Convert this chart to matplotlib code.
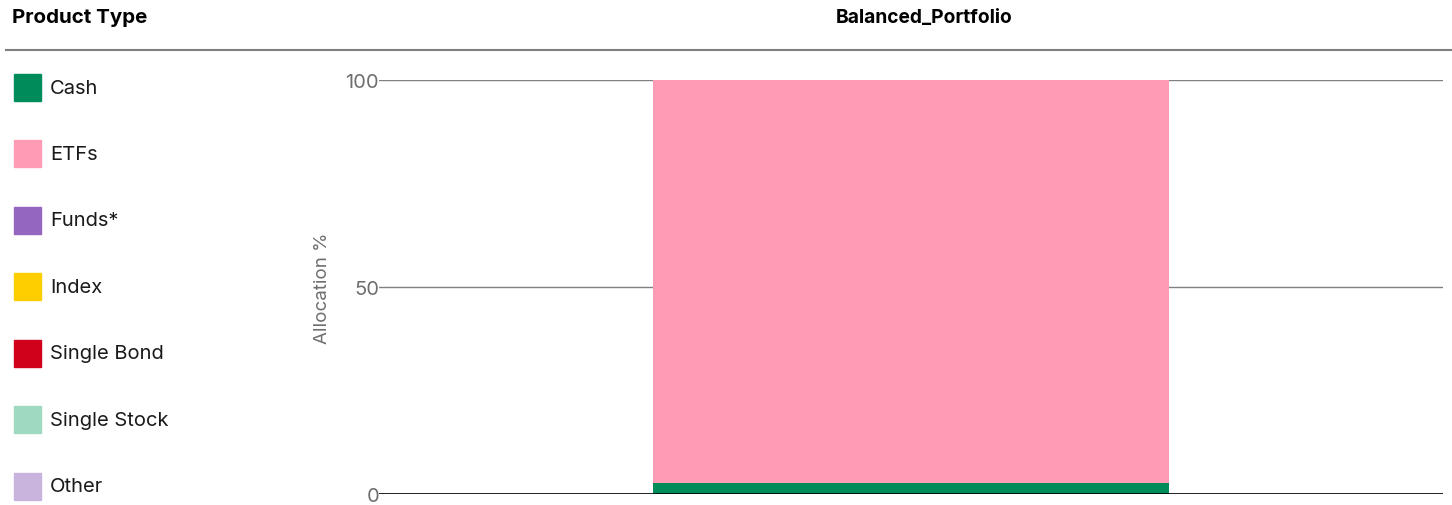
import matplotlib.pyplot as plt
from matplotlib.patches import Rectangle
from matplotlib.lines import Line2D

plt.rcParams['font.family'] = ['Inter', 'DejaVu Sans']

portfolio = "Balanced_Portfolio"
product_types = ["Cash", "ETFs", "Funds*", "Index", "Single Bond", "Single Stock", "Other"]
allocation = [2.7, 97.3, 0, 0, 0, 0, 0]
colors = ["#008c5a", "#ff9bb5", "#9566bf", "#ffce00", "#d0021b", "#a0d9c1", "#c8b4dd"]
yticks = [0, 50, 100]

W, H = 1452, 506
fig = plt.figure(figsize=(W / 100, H / 100), dpi=100)

def fx(px):
    return px / W

def fy(py):
    return 1 - py / H

# header
fig.text(fx(12), fy(18), "Product Type", fontsize=14.8, fontweight="bold",
         ha="left", va="center", color="#000000")
fig.text(fx(924), fy(18), portfolio, fontsize=13.8, fontweight="bold",
         ha="center", va="center", color="#000000")
fig.add_artist(Line2D([fx(6), 1], [fy(51), fy(51)], color="#7f7f7f", lw=1.5,
                      transform=fig.transFigure))

# legend
for i, (name, c) in enumerate(zip(product_types, colors)):
    yc = 88.5 + i * 66.5
    fig.add_artist(Rectangle((fx(14), fy(yc + 13)), fx(27), 27 / H, color=c,
                             transform=fig.transFigure))
    fig.text(fx(50), fy(yc), name, fontsize=14.5, ha="left", va="center",
             color="#1a1a1a")

# chart
ax = fig.add_axes([fx(379), fy(495), fx(1443 - 379), (495 - 81) / H])
bottom = 0
for name, val, c in zip(product_types, allocation, colors):
    if val > 0:
        ax.bar(0, val, bottom=bottom, width=0.485, color=c, zorder=2)
    bottom += val

ax.set_xlim(-0.5, 0.5)
ax.set_ylim(0, 100)
ax.set_yticks(yticks)
ax.set_xticks([])
for t in yticks:
    ax.axhline(t, color="#808080", lw=1, zorder=1)
ax.axhline(0, color="#000000", lw=1.2, zorder=3)
for s in ax.spines.values():
    s.set_visible(False)
ax.tick_params(axis="y", length=0, pad=0, labelsize=14.5, labelcolor="#6e6e6e")
ax.set_ylabel("Allocation %", fontsize=13.5, color="#6e6e6e", labelpad=10)
ax.patch.set_alpha(0)

fig.savefig("out.png", dpi=100)
